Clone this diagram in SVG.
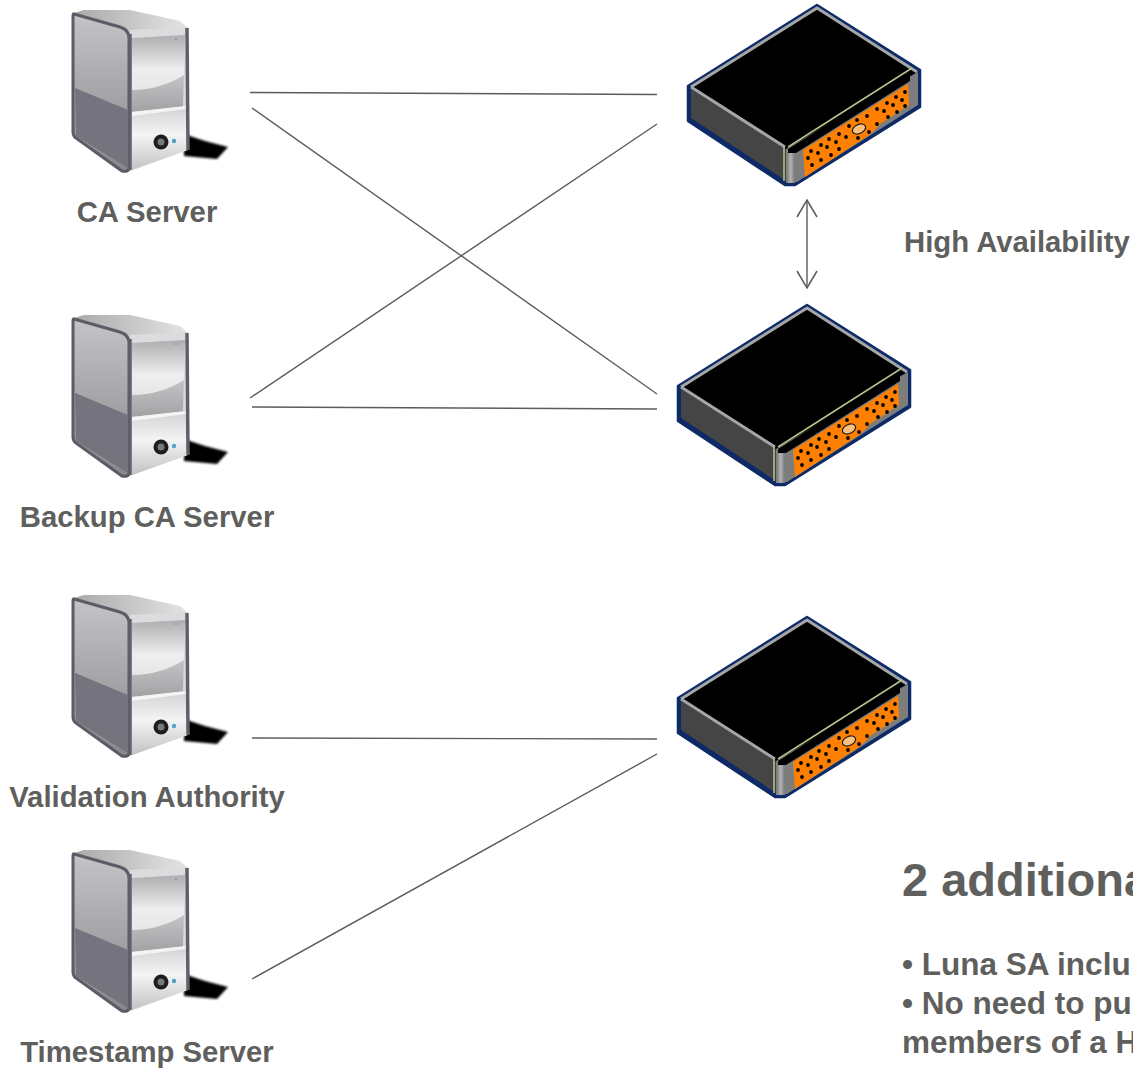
<svg xmlns="http://www.w3.org/2000/svg" xmlns:xlink="http://www.w3.org/1999/xlink" width="1133" height="1068" viewBox="0 0 1133 1068">
<style>
text{font-family:"Liberation Sans",Arial,sans-serif;font-weight:700;fill:#5f5f5d}
.lbl{font-size:29.300px;text-anchor:middle}
.hd{font-size:47px}
.body{font-size:31.500px}
.wire{stroke:#5c5c5c;stroke-width:1.4;fill:none}
</style>
<defs>
<filter id="soft" x="-5%" y="-5%" width="110%" height="110%"><feGaussianBlur stdDeviation="0.6"/></filter>
<filter id="softer" x="-20%" y="-30%" width="140%" height="160%"><feGaussianBlur stdDeviation="1.2"/></filter>
<linearGradient id="side" x1="0" y1="0" x2="0" y2="1"><stop offset="0" stop-color="#c4c4c6"/><stop offset="1" stop-color="#88888c"/></linearGradient>
<linearGradient id="screen" x1="0" y1="0" x2="0" y2="1"><stop offset="0" stop-color="#aeaeb0"/><stop offset=".45" stop-color="#eeeeee"/><stop offset="1" stop-color="#dedede"/></linearGradient>
<linearGradient id="screen2" x1="0" y1="0" x2="0" y2="1"><stop offset="0" stop-color="#c4c4c6"/><stop offset="1" stop-color="#a2a2a4"/></linearGradient>
<linearGradient id="low" x1="0" y1="0" x2="0" y2="1"><stop offset="0" stop-color="#d2d2d4"/><stop offset=".45" stop-color="#f4f4f4"/><stop offset="1" stop-color="#c2c2c4"/></linearGradient>
<linearGradient id="top" x1="0" y1="0" x2="1" y2="0"><stop offset="0" stop-color="#a9a9ab"/><stop offset="1" stop-color="#e4e4e4"/></linearGradient>
<linearGradient id="cap" x1="0" y1="0" x2="1" y2="0"><stop offset="0" stop-color="#7d7d7d"/><stop offset=".45" stop-color="#b4b4b4"/><stop offset="1" stop-color="#777"/></linearGradient>
<marker id="chev" viewBox="-18 -11 19 22" refX="0" refY="0" markerWidth="19" markerHeight="22" markerUnits="userSpaceOnUse" orient="auto-start-reverse"><path d="M-17 -10L0 0L-17 10" fill="none" stroke="#5c5c5c" stroke-width="1.5"/></marker>
<symbol id="server" width="240" height="180" viewBox="0 0 240 180" overflow="visible">
<path d="M184 134L205 141L228 147L217 159L184 156Z" fill="#000" filter="url(#softer)"/>
<g filter="url(#soft)">
<path d="M74 13L84 10L130 10L180 21L188 28L130 36L122 28Z" fill="url(#top)"/>
<path d="M130 30L188 27L188 150L130 171Z" fill="#dcdcde"/>
<path d="M132 38L185 35L183 107L132 112Z" fill="url(#screen)"/>
<path d="M132 90Q160 90 184 75L183 107L132 112Z" fill="url(#screen2)"/>
<path d="M132 112L187 106L187 150L132 170Z" fill="url(#low)"/>
<path d="M132 112L186 106L186 109L132 116Z" fill="#f4f4f4"/>
<path d="M74 14L120 27Q129 30 129 38L129 168Q129 172 122 171L76 138Q73 136 73 132L73 17Q73 13 74 14Z" fill="url(#side)" stroke="#5d5b66" stroke-width="3"/>
<path d="M75 88L128 110L128 168L76 136Z" fill="#75737e"/>
<path d="M130 34L130 170M187 28L188 150" stroke="#615f6a" stroke-width="3.500" fill="none"/>
<circle cx="161" cy="142" r="7.500" fill="#1f1f24"/><circle cx="161" cy="142" r="3.500" fill="#77777b"/>
<circle cx="174" cy="141" r="2.200" fill="#4fa3c7"/>
<circle cx="176" cy="39" r="1" fill="#5ba0c8"/>
</g>
</symbol>
<symbol id="device" width="260" height="190" viewBox="670 0 260 190" overflow="visible">
<g filter="url(#soft)">
<path d="M817 5L920 70L920 107L795 185L785 185L688 121L688 86Z" fill="#0a2a66" stroke="#0a2a66" stroke-width="2.500" stroke-linejoin="round"/>
<path d="M691 89L786 147L786 181L691 118Z" fill="#444"/>
<path d="M786 147L918 72L918 105L797 182L786 183Z" fill="#7d7d7d"/>
<path d="M787 150L795 149L795 183L787 183Z" fill="url(#cap)"/>
<path d="M817 8L917 72L786 149L691 87Z" fill="#000"/>
<path d="M691 87L817 8L917 72M691 87L785 147" fill="none" stroke="#a6a6a6" stroke-width="3" stroke-linejoin="round"/>
<path d="M788 147L912 68" stroke="#b4c48c" stroke-width="1.500" fill="none"/>
<path d="M784 147L784 181" stroke="#b4c48c" stroke-width="1.500" fill="none"/>
<path d="M788 149L910 73L910 81L796 153L788 153Z" fill="#000"/>
<path d="M803 150L908 84L909 105L880 124Q872 134 866 137L805 177Z" fill="#ff8000"/>
<g fill="#000"><circle cx="905" cy="92" r="1.900"/><circle cx="896" cy="97" r="1.900"/><circle cx="902" cy="100" r="1.900"/><circle cx="887" cy="103" r="1.900"/><circle cx="893" cy="105" r="1.900"/><circle cx="905" cy="106" r="1.900"/><circle cx="877" cy="109" r="1.900"/><circle cx="884" cy="111" r="1.900"/><circle cx="897" cy="112" r="1.900"/><circle cx="867" cy="116" r="1.900"/><circle cx="888" cy="117" r="1.900"/><circle cx="857" cy="120" r="1.900"/><circle cx="877" cy="124" r="1.900"/><circle cx="849" cy="126" r="1.900"/><circle cx="869" cy="132" r="1.900"/><circle cx="839" cy="134" r="1.900"/><circle cx="829" cy="139" r="1.900"/><circle cx="846" cy="137" r="1.900"/><circle cx="858" cy="138" r="1.900"/><circle cx="821" cy="145" r="1.900"/><circle cx="836" cy="142" r="1.900"/><circle cx="827" cy="147" r="1.900"/><circle cx="811" cy="151" r="1.900"/><circle cx="818" cy="153" r="1.900"/><circle cx="839" cy="149" r="1.900"/><circle cx="831" cy="155" r="1.900"/><circle cx="808" cy="158" r="1.900"/><circle cx="821" cy="160" r="1.900"/><circle cx="812" cy="165" r="1.900"/></g>
<ellipse cx="859" cy="129" rx="7" ry="4.500" transform="rotate(-25 859 129)" fill="#f9c07e" stroke="#1a1a1a" stroke-width="1.200"/>
</g>
</symbol>
</defs>
<g id="connectors">
<line class="wire" x1="250" y1="92.500" x2="657" y2="94.500"/>
<line class="wire" x1="252" y1="108" x2="657" y2="394"/>
<line class="wire" x1="250" y1="398" x2="657" y2="124"/>
<line class="wire" x1="252" y1="407" x2="657" y2="409"/>
<line class="wire" x1="252" y1="738" x2="657" y2="739"/>
<line class="wire" x1="252" y1="979" x2="657" y2="754"/>
<line class="wire" x1="807" y1="200" x2="807" y2="288" marker-start="url(#chev)" marker-end="url(#chev)"/>
</g>
<g id="server-ca"><use href="#server"/><text class="lbl" x="147" y="222">CA Server</text></g>
<g id="server-backup"><use href="#server" y="305"/><text class="lbl" x="147" y="527">Backup CA Server</text></g>
<g id="server-va"><use href="#server" y="585"/><text class="lbl" x="147" y="807">Validation Authority</text></g>
<g id="server-ts"><use href="#server" y="840"/><text class="lbl" x="147" y="1062">Timestamp Server</text></g>
<g id="hsm-1"><use href="#device" x="670"/></g>
<g id="hsm-2"><use href="#device" x="660" y="300"/></g>
<g id="hsm-3"><use href="#device" x="660" y="612"/></g>
<text class="lbl" style="text-anchor:start" x="904" y="252">High Availability</text>
<g id="notes">
<text class="hd" x="902" y="896">2 additiona</text>
<text class="body" x="902" y="975">• Luna SA inclu</text>
<text class="body" x="902" y="1014">• No need to pu</text>
<text class="body" x="902" y="1053">members of a H</text>
</g>
</svg>
